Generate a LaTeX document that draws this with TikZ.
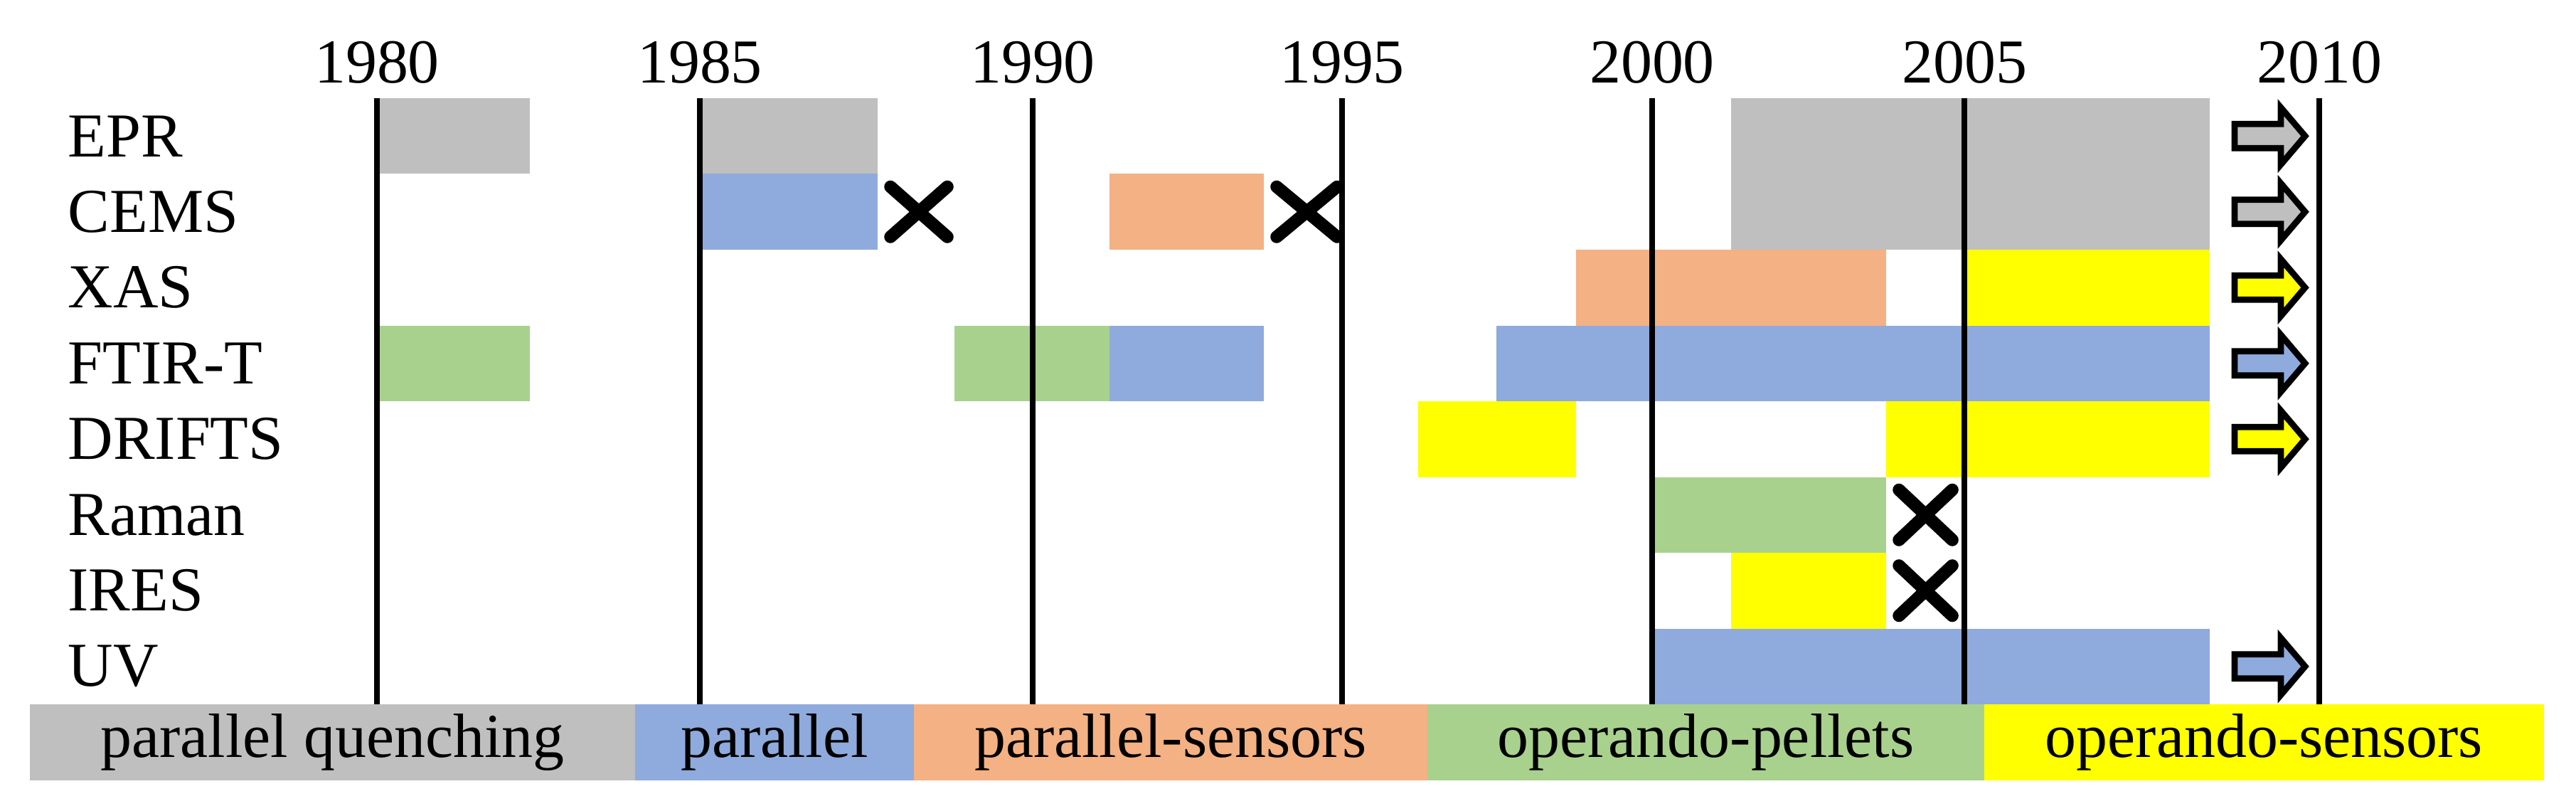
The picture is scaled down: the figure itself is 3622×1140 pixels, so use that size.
\documentclass[tikz,border=0pt]{standalone}
\usepackage{fontspec}
\setmainfont{Liberation Serif}
\definecolor{cg}{HTML}{BFBFBF}
\definecolor{cb}{HTML}{8FAADC}
\definecolor{co}{HTML}{F4B183}
\definecolor{cgr}{HTML}{A9D18E}
\definecolor{cy}{HTML}{FFFF00}
\begin{document}
\begin{tikzpicture}[x=0.01cm,y=-0.01cm,
  lbl/.style={font=\fontsize{25}{28}\selectfont,inner sep=0pt},
  yr/.style={line width=2.2pt},
  xmark/.style={line width=5pt,line cap=round},
  blk/.style={draw=black,line width=2.5pt,line join=miter}]
\useasboundingbox (0,0) rectangle (3622,1140);
\def\T{138}\def\H{106.5}
% bars: \bar{x1}{x2}{row}{color}
\newcommand\mybar[4]{\fill[#4] (#1,{\T+\H*#3}) rectangle (#2,{\T+\H*(#3+1)});}
\mybar{530}{745}{0}{cg}
\mybar{984}{1234}{0}{cg}
\mybar{984}{1234}{1}{cb}
\mybar{1560}{1777}{1}{co}
\fill[cg] (2434,\T) rectangle (3107,{\T+2*\H});
\mybar{2216}{2652}{2}{co}
\mybar{2762}{3107}{2}{cy}
\mybar{530}{745}{3}{cgr}
\mybar{1342}{1560}{3}{cgr}
\mybar{1560}{1777}{3}{cb}
\mybar{2104}{3107}{3}{cb}
\mybar{1994}{2216}{4}{cy}
\mybar{2652}{3107}{4}{cy}
\mybar{2323}{2652}{5}{cgr}
\mybar{2434}{2652}{6}{cy}
\mybar{2323}{3107}{7}{cb}
% year lines and labels
\foreach \x/\y in {530/1980,984/1985,1452/1990,1887/1995,2323/2000,2762/2005,3261/2010}{
  \draw[yr] (\x,\T) -- (\x,990);
  \node[lbl] (y\y) at (\x,88) {\y};
}
% row labels
\foreach \n/\t [count=\i from 0] in {epr/EPR,cems/CEMS,xas/XAS,ftir/FTIR-T,drifts/DRIFTS,raman/Raman,ires/IRES,uv/UV/Vis}{
  \node[lbl,anchor=west] (\n) at (95,{\T+\H*(\i+0.5)}) {\t};
}
% crosses
\newcommand\xm[3]{\draw[xmark] (#1,{\T+\H*#3+18}) -- (#2,{\T+\H*(#3+1)-18}) (#1,{\T+\H*(#3+1)-18}) -- (#2,{\T+\H*#3+18});}
\xm{1252}{1332}{1}
\xm{1795}{1880}{1}
\xm{2670}{2745}{5}
\xm{2670}{2745}{6}
% arrows
\newcommand\arr[2]{\draw[blk,fill=#2] (3142,{\T+\H*(#1+0.5)-17}) -- (3207,{\T+\H*(#1+0.5)-17}) -- (3207,{\T+\H*(#1+0.5)-40}) -- (3241,{\T+\H*(#1+0.5)}) -- (3207,{\T+\H*(#1+0.5)+40}) -- (3207,{\T+\H*(#1+0.5)+17}) -- (3142,{\T+\H*(#1+0.5)+17}) -- cycle;}
\arr{0}{cg}\arr{1}{cg}\arr{2}{cy}\arr{3}{cb}\arr{4}{cy}\arr{7}{cb}
% legend
\foreach \a/\b/\c/\t/\n in {42/893/cg/parallel quenching/l1,893/1285/cb/parallel/l2,1285/2007/co/parallel-sensors/l3,2007/2790/cgr/operando-pellets/l4,2790/3577/cy/operando-sensors/l5}{
  \fill[\c] (\a,990) rectangle (\b,1097);
  \node[lbl] (\n) at ({(\a+\b)/2},1043) {\t};
}
\end{tikzpicture}
\end{document}
